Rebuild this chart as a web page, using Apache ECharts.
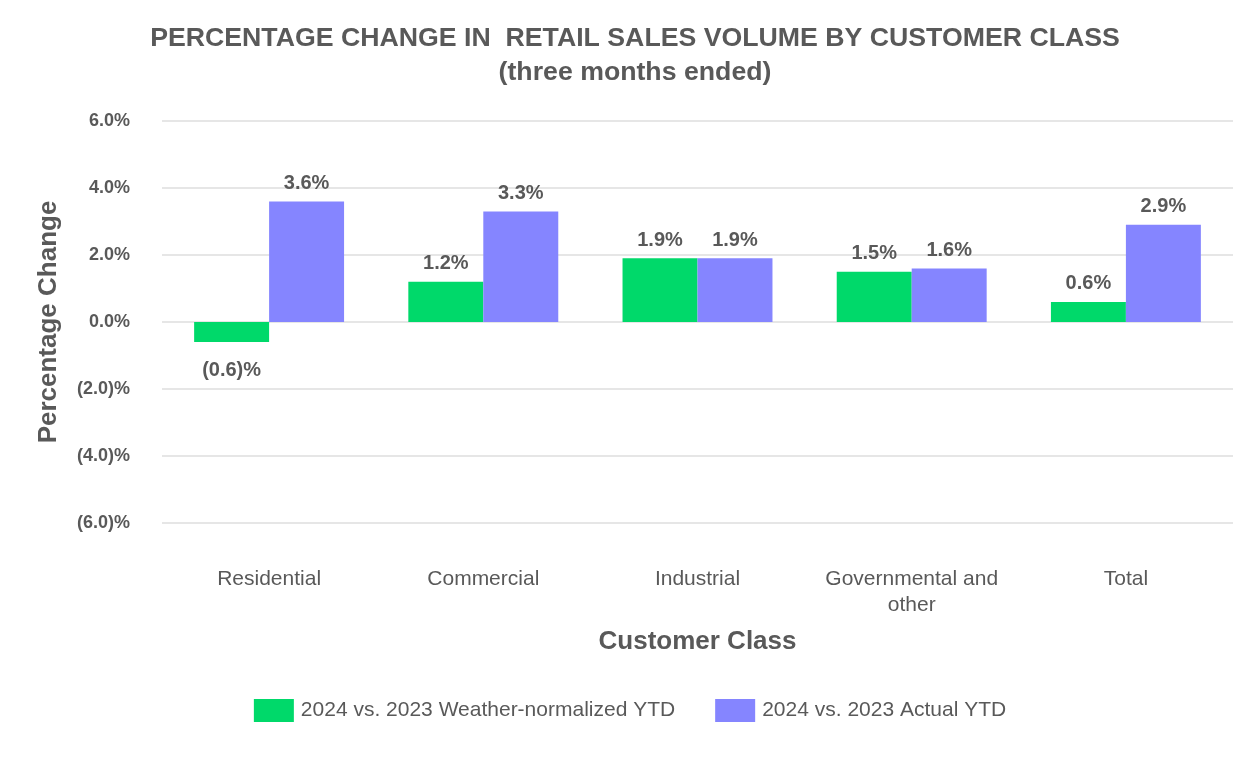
<!DOCTYPE html>
<html><head><meta charset="utf-8">
<script src="https://cdn.jsdelivr.net/npm/echarts@6/dist/echarts.min.js"></script>
<style>html,body{margin:0;padding:0;background:#fff}#c{width:1260px;height:760px}</style>
</head><body><div id="c"></div>
<script>
const categories = ['Residential','Commercial','Industrial','Governmental and\nother','Total'];
const weatherNormalized = [-0.6, 1.2, 1.9, 1.5, 0.6];
const actual = [3.6, 3.3, 1.9, 1.6, 2.9];
const seriesNames = ['2024 vs. 2023 Weather-normalized YTD','2024 vs. 2023 Actual YTD'];
const fmt = v => v < 0 ? '(' + Math.abs(v).toFixed(1) + ')%' : v.toFixed(1) + '%';
const txt = '#595959';
const font = 'Liberation Sans, Arial, sans-serif';
const chart = echarts.init(document.getElementById('c'));
const labelOpt = {show:true, position:'top', distance:8, formatter:p=>fmt(p.value), color:txt, fontWeight:'bold', fontSize:20, fontFamily:font};
chart.setOption({
  animation:false,
  textStyle:{fontFamily:font},
  title:{text:'PERCENTAGE CHANGE IN  RETAIL SALES VOLUME BY CUSTOMER CLASS\n(three months ended)', left:630, textAlign:'center', top:17,
    textStyle:{color:txt, fontSize:26.7, fontWeight:'bold', lineHeight:34, fontFamily:font}},
  legend:{bottom:33, left:'center', itemWidth:40, itemHeight:23, itemGap:40, icon:'rect',
    textStyle:{color:txt, fontSize:21, fontFamily:font, padding:[0,0,0,2]}},
  grid:{left:162, right:27, top:121, bottom:237, outerBoundsMode:'none', containLabel:false},
  xAxis:{type:'category', data:categories, name:'Customer Class', nameLocation:'middle', nameGap:106,
    nameTextStyle:{color:txt, fontSize:26, fontWeight:'bold'},
    axisLine:{show:false, onZero:false}, axisTick:{show:false},
    axisLabel:{color:txt, fontSize:21, margin:43, lineHeight:26, interval:0}},
  yAxis:{type:'value', min:-6, max:6, interval:2, name:'Percentage Change', nameLocation:'middle', nameGap:100,
    nameTextStyle:{color:txt, fontSize:26, fontWeight:'bold'},
    axisLabel:{formatter:v=>fmt(v), color:txt, fontSize:18, fontWeight:'bold', margin:32, padding:[7,0,0,0]},
    splitLine:{lineStyle:{color:'#e6e6e6', width:2}}},
  series:[
    {name:seriesNames[0], type:'bar', barGap:'0%', barCategoryGap:'30%',
      data: weatherNormalized.map(v => v < 0 ? {value:v, label:{position:'bottom', distance:18}} : v),
      itemStyle:{color:'#00D96A'}, label:labelOpt},
    {name:seriesNames[1], type:'bar', data:actual, itemStyle:{color:'#8585FF'}, label:labelOpt}
  ]
});
</script></body></html>
